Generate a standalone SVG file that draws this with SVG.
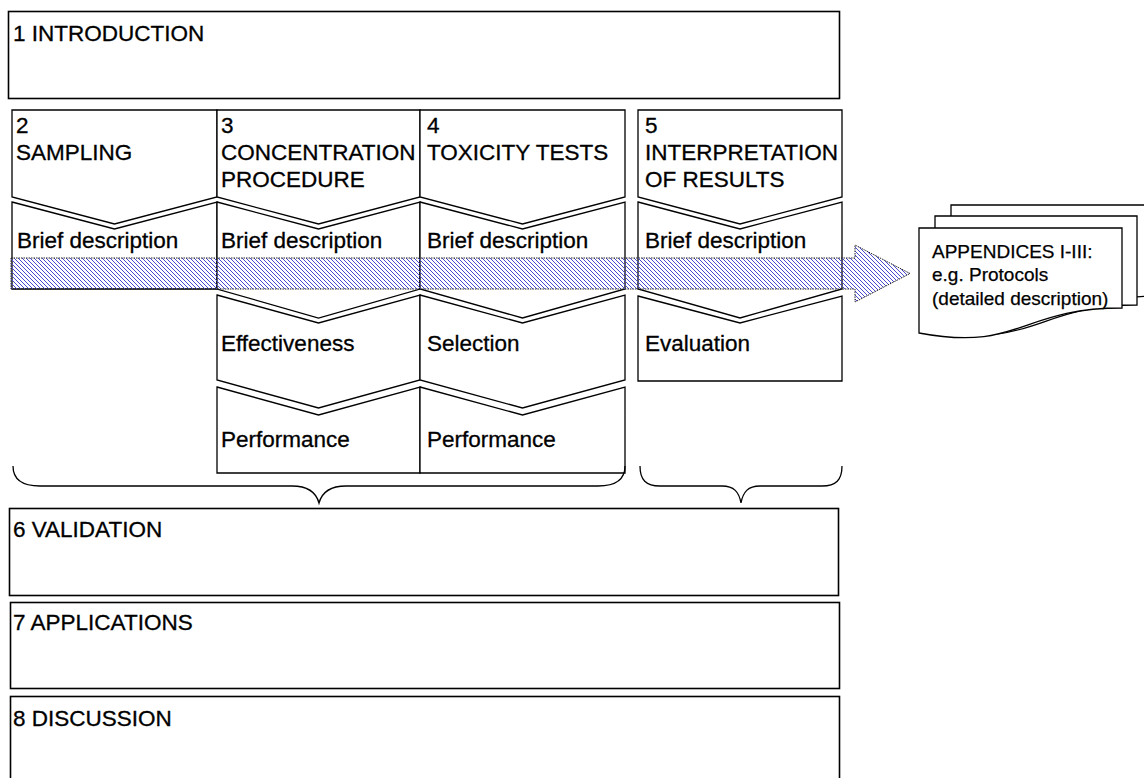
<svg xmlns="http://www.w3.org/2000/svg" width="1144" height="778" viewBox="0 0 1144 778">
<style>
  .t{font-family:"Liberation Sans",Arial,sans-serif;font-size:22.5px;fill:#000;stroke:#000;stroke-width:0.3}
  .ts{font-family:"Liberation Sans",Arial,sans-serif;font-size:19px;fill:#000;stroke:#000;stroke-width:0.25}
  .box{fill:#fff;stroke:#000;stroke-width:1.6}
  .ch{fill:#fff;stroke:#000;stroke-width:1.3;stroke-linejoin:miter}
  .doc{fill:#fff;stroke:#000;stroke-width:1.3}
  .brace{fill:none;stroke:#000;stroke-width:1.3}
</style>
<defs>
  <pattern id="hatch" patternUnits="userSpaceOnUse" width="4" height="4">
    <path d="M-1,-1 L5,5 M-1,3 L1,5 M3,-1 L5,1" stroke="#4b4bd2" stroke-width="1"/>
  </pattern>
</defs>
<rect width="1144" height="778" fill="#fff"/>

<g id="introduction">
  <rect class="box" x="8.5" y="11.5" width="831" height="87"/>
  <text class="t" x="13" y="41">1 INTRODUCTION</text>
</g>

<g id="sampling">
  <path class="ch" d="M12,110 H217 V197 L114.5,224 L12,197 Z"/>
  <text class="t" x="16" y="133">2</text>
  <text class="t" x="16" y="160">SAMPLING</text>
</g>
<g id="sampling-brief">
  <path class="ch" d="M12,202 L114.5,229 L217,202 V289 H12 Z"/>
  <text class="t" x="17" y="248">Brief description</text>
</g>

<g id="concentration">
  <path class="ch" d="M217,110 H420 V197 L318.5,224 L217,197 Z"/>
  <text class="t" x="221" y="133">3</text>
  <text class="t" x="221" y="160">CONCENTRATION</text>
  <text class="t" x="221" y="187">PROCEDURE</text>
</g>
<g id="concentration-brief">
  <path class="ch" d="M217,202 L318.5,229 L420,202 V289 L318.5,318 L217,289 Z"/>
  <text class="t" x="221" y="248">Brief description</text>
</g>
<g id="concentration-effectiveness">
  <path class="ch" d="M217,295 L318.5,323 L420,295 V380 L318.5,408 L217,380 Z"/>
  <text class="t" x="221" y="351">Effectiveness</text>
</g>
<g id="concentration-performance">
  <path class="ch" d="M217,387 L318.5,415 L420,387 V473 H217 Z"/>
  <text class="t" x="221" y="447">Performance</text>
</g>

<g id="toxicity">
  <path class="ch" d="M420,110 H625 V197 L522.5,224 L420,197 Z"/>
  <text class="t" x="427" y="133">4</text>
  <text class="t" x="427" y="160">TOXICITY TESTS</text>
</g>
<g id="toxicity-brief">
  <path class="ch" d="M420,202 L522.5,229 L625,202 V289 L522.5,318 L420,289 Z"/>
  <text class="t" x="427" y="248">Brief description</text>
</g>
<g id="toxicity-selection">
  <path class="ch" d="M420,295 L522.5,323 L625,295 V380 L522.5,408 L420,380 Z"/>
  <text class="t" x="427" y="351">Selection</text>
</g>
<g id="toxicity-performance">
  <path class="ch" d="M420,387 L522.5,415 L625,387 V473 H420 Z"/>
  <text class="t" x="427" y="447">Performance</text>
</g>

<g id="interpretation">
  <path class="ch" d="M638,110 H842 V197 L740,224 L638,197 Z"/>
  <text class="t" x="645" y="133">5</text>
  <text class="t" x="645" y="160">INTERPRETATION</text>
  <text class="t" x="645" y="187">OF RESULTS</text>
</g>
<g id="interpretation-brief">
  <path class="ch" d="M638,202 L740,229 L842,202 V289 L740,318 L638,289 Z"/>
  <text class="t" x="645" y="248">Brief description</text>
</g>
<g id="interpretation-evaluation">
  <path class="ch" d="M638,296 L740,323 L842,296 V381 H638 Z"/>
  <text class="t" x="645" y="351">Evaluation</text>
</g>

<g id="connectors">
  <path d="M11,258 H855 V245 L910,273.5 L855,302 V289 H11 Z" fill="url(#hatch)" stroke="#222" stroke-width="1" stroke-dasharray="1.5,1"/>
  <path class="brace" d="M13,466 C13,480 22,486 40,486 H292 C308,486 316,492 319,503 C322,492 330,486 346,486 H598 C616,486 625,480 625,466"/>
  <path class="brace" d="M640,466 C640,480 646,486 660,486 H722 C734,486 739,492 741,503 C743,492 748,486 760,486 H822 C836,486 842,480 842,466"/>
</g>

<g id="appendices">
  <path class="doc" d="M951,205 H1160 V296 C1055,296 1055,340 951,321 Z"/>
  <path class="doc" d="M935,216 H1137 V305 C1036,305 1036,349 935,330 Z"/>
  <path class="doc" d="M919,228 H1122 V308 C1020,308 1020,352 919,333 Z"/>
  <text class="ts" x="932" y="258">APPENDICES I-III:</text>
  <text class="ts" x="932" y="281">e.g. Protocols</text>
  <text class="ts" x="932" y="305">(detailed description)</text>
</g>

<g id="validation">
  <rect class="box" x="9.5" y="508.5" width="829" height="87"/>
  <text class="t" x="13" y="537">6 VALIDATION</text>
</g>
<g id="applications">
  <rect class="box" x="10.5" y="602.5" width="829" height="86"/>
  <text class="t" x="13" y="630">7 APPLICATIONS</text>
</g>
<g id="discussion">
  <rect class="box" x="10.5" y="696.5" width="829" height="90"/>
  <text class="t" x="13" y="726">8 DISCUSSION</text>
</g>
</svg>
